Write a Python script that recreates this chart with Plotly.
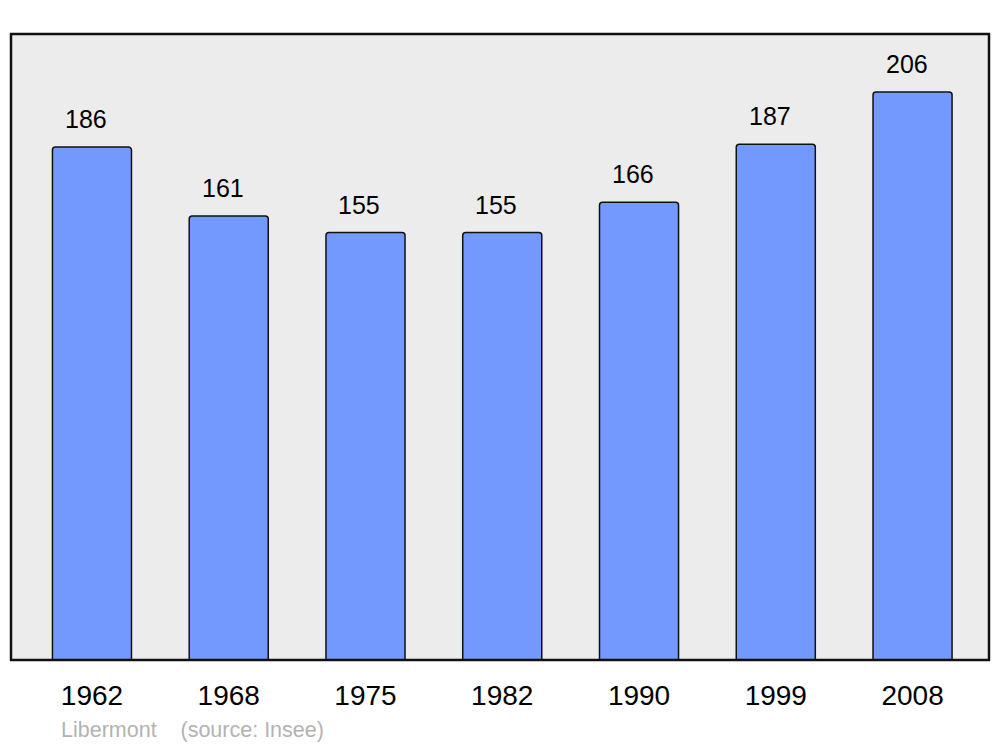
import plotly.graph_objects as go

years = ["1962", "1968", "1975", "1982", "1990", "1999", "2008"]
population = [186, 161, 155, 155, 166, 187, 206]
footer = "Libermont    (source: Insee)"

positions = list(range(len(years)))

# the page body has an 8px margin, so the figure is sized/offset to compensate
W, H = 992, 739
ML, MR, MT, MB = 3, 11, 26, 87
plot_w = W - ML - MR
plot_h = H - MT - MB

fig = go.Figure(
    data=go.Bar(
        x=positions,
        y=population,
        width=0.578,
        marker=dict(
            color="#7399ff",
            line=dict(color="#111111", width=1.5),
            cornerradius=3,
        ),
        hoverinfo="skip",
    )
)

# value labels above each bar
for x, v in zip(positions, population):
    fig.add_annotation(
        x=x, y=v, text=str(v), showarrow=False,
        yanchor="bottom", yshift=12, xshift=-6,
        font=dict(size=25, color="#000000"),
    )

# footer text
fig.add_annotation(
    xref="paper", yref="paper",
    x=(51 - ML) / plot_w, y=(MT + plot_h - 722) / plot_h,
    xanchor="left", yanchor="middle",
    text=footer, showarrow=False,
    font=dict(size=21.5, color="#b3b3b3"),
)

# plot frame
fig.add_shape(
    type="rect", xref="paper", yref="paper", x0=0, y0=0, x1=1, y1=1,
    line=dict(color="#111111", width=2.5), layer="above",
)

fig.update_layout(
    width=W,
    height=H,
    margin=dict(l=ML, r=MR, t=MT, b=MB),
    paper_bgcolor="#ffffff",
    plot_bgcolor="#ececec",
    font=dict(family="Liberation Sans, Arial, sans-serif"),
    showlegend=False,
    xaxis=dict(
        range=[-0.592, 6.559],
        tickvals=positions,
        ticktext=years,
        tickfont=dict(size=28, color="#000000"),
        ticks="outside",
        ticklen=10,
        tickcolor="rgba(0,0,0,0)",
        showgrid=False,
        zeroline=False,
        showline=False,
    ),
    yaxis=dict(
        range=[0, 227],
        showticklabels=False,
        showgrid=False,
        zeroline=False,
        showline=False,
    ),
)

fig.write_html("out.html")
